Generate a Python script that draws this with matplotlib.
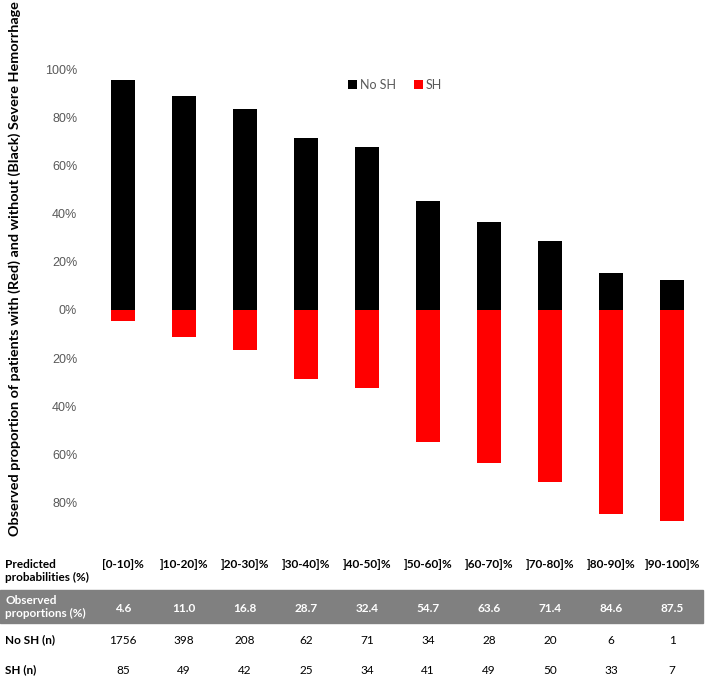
import matplotlib
matplotlib.use("Agg")
import matplotlib.pyplot as plt
import matplotlib.transforms as mtransforms
from matplotlib.patches import Rectangle
import numpy as np

categories = ["[0-10]%", "]10-20]%", "]20-30]%", "]30-40]%", "]40-50]%",
              "]50-60]%", "]60-70]%", "]70-80]%", "]80-90]%", "]90-100]%"]
observed = [4.6, 11.0, 16.8, 28.7, 32.4, 54.7, 63.6, 71.4, 84.6, 87.5]
no_sh_n = [1756, 398, 208, 62, 71, 34, 28, 20, 6, 1]
sh_n = [85, 49, 42, 25, 34, 41, 49, 50, 33, 7]
yticks = [100, 80, 60, 40, 20, 0, -20, -40, -60, -80]

no_sh_pct = [100 - v for v in observed]
sh_pct = [-v for v in observed]

W, H = 709, 680
fig = plt.figure(figsize=(W / 100, H / 100), dpi=100)
ppp = 2.41  # px per percent
zero_px = 310
ytop, ybot = 105, -100
top_px = zero_px - ytop * ppp
bot_px = zero_px - ybot * ppp
left_px = 123 - 30.5
right_px = 672 + 30.5
ax = fig.add_axes([left_px / W, 1 - bot_px / H, (right_px - left_px) / W, (bot_px - top_px) / H])
ax.set_zorder(2)
ax.patch.set_alpha(0)

x = np.arange(len(categories))
b1 = ax.bar(x, no_sh_pct, width=0.4, color="black", label="No SH")
b2 = ax.bar(x, sh_pct, width=0.4, color="#FF0000", label="SH")
ax.set_xlim(-0.5, len(categories) - 0.5)
ax.set_ylim(ybot, ytop)
ax.set_yticks(yticks)
ax.set_yticklabels([f"{abs(v)}%" for v in yticks], fontfamily="Liberation Sans",
                   fontsize=9, color="#595959")
ax.tick_params(axis="y", length=0, pad=11)
ax.set_xticks([])
for s in ax.spines.values():
    s.set_visible(False)

leg = fig.legend(handles=[b1, b2], labels=["No SH", "SH"], ncol=2, frameon=False,
                 loc="center", bbox_to_anchor=(395 / W, 1 - 85 / H),
                 handlelength=0.7, handleheight=0.7, handletextpad=0.2, columnspacing=1.5,
                 prop={"family": "Lato", "size": 9})
for t in leg.get_texts():
    t.set_color("#595959")

fig.text(15 / W, 1 - 269 / H,
         "Observed proportion of patients with (Red) and without (Black) Severe Hemorrhage",
         rotation=90, ha="center", va="center", fontfamily="Lato", fontweight="bold",
         fontsize=10.4)

# table
trans = mtransforms.blended_transform_factory(ax.transData, fig.transFigure)
tf = "Lato"
fs = 8.5
def fy(p):
    return 1 - p / H

fig.patches.append(Rectangle((0, fy(623)), 703 / W, (623 - 590) / H, transform=fig.transFigure,
                             color="#808080", zorder=-1))
fig.text(5 / W, fy(571), "Predicted\nprobabilities (%)", ha="left", va="center",
         fontfamily=tf, fontweight="bold", fontsize=fs, linespacing=1.25)
fig.text(5 / W, fy(607), "Observed\nproportions (%)", ha="left", va="center",
         fontfamily=tf, fontweight="bold", fontsize=fs, color="white", linespacing=1.25,
         zorder=3)
fig.text(5 / W, fy(640), "No SH (n)", ha="left", va="center",
         fontfamily=tf, fontweight="bold", fontsize=fs)
fig.text(5 / W, fy(670), "SH (n)", ha="left", va="center",
         fontfamily=tf, fontweight="bold", fontsize=fs)
for i in range(len(categories)):
    ax.text(i, fy(565), categories[i], transform=trans, ha="center", va="center",
            fontfamily=tf, fontweight="bold", fontsize=fs)
    ax.text(i, fy(608), f"{observed[i]:.1f}", transform=trans, ha="center", va="center",
            fontfamily=tf, fontweight="bold", fontsize=fs, color="white")
    ax.text(i, fy(640), str(no_sh_n[i]), transform=trans, ha="center", va="center",
            fontfamily=tf, fontsize=fs)
    ax.text(i, fy(670), str(sh_n[i]), transform=trans, ha="center", va="center",
            fontfamily=tf, fontsize=fs)

fig.savefig("out.png", dpi=100)
